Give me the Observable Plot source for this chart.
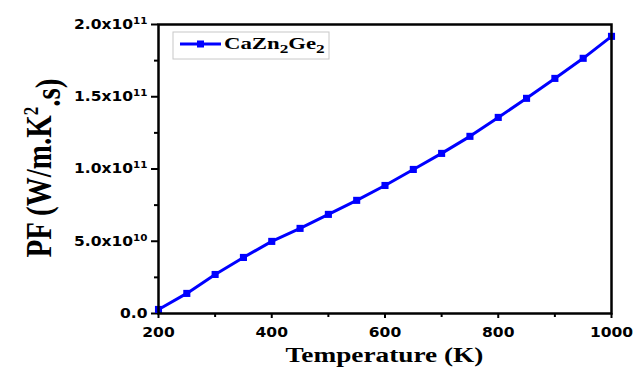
<!DOCTYPE html>
<html><head><meta charset="utf-8">
<script src="https://cdn.jsdelivr.net/npm/d3@7"></script>
<script src="https://cdn.jsdelivr.net/npm/@observablehq/plot@0.6"></script>
<style>body{margin:0;background:#fff} #chart{width:635px;height:367px}</style>
</head><body><div id="chart"></div>
<script>
// ---- data ----
const temperature = [200,250,300,350,400,450,500,550,600,650,700,750,800,850,900,950,1000];
const pf = [2.8e9,1.39e10,2.70e10,3.88e10,4.99e10,5.89e10,6.86e10,7.83e10,8.86e10,9.97e10,1.108e11,1.226e11,1.357e11,1.489e11,1.627e11,1.766e11,1.918e11];
const seriesName = ["CaZn","2","Ge","2"];
const yTicks = [0, 5e10, 1e11, 1.5e11, 2e11];
const yTickLabels = ["0.0","5.0x10^10","1.0x10^11","1.5x10^11","2.0x10^11"];
const yMinorTicks = [2.5e10, 7.5e10, 1.25e11, 1.75e11];
const xTicks = [200,400,600,800,1000];
const xTickLabels = ["200","400","600","800","1000"];
const xMinorTicks = [300,500,700,900];
const xLabel = "Temperature (K)";
const yLabel = ["PF (W/m.K","2",".s)"];

const data = temperature.map((t,i)=>({t, pf: pf[i]}));
const BLUE = "#0000ff";
const SANS = "'DejaVu Sans', 'Liberation Sans', Arial, sans-serif";
const SERIF = "'Liberation Serif', 'Times New Roman', serif";

const plot = Plot.plot({
  width:635, height:367,
  marginLeft:158, marginRight:24, marginTop:24, marginBottom:54,
  x:{domain:[200,1000]},
  y:{domain:[0,2e11]},
  style:{fontFamily:SANS, fontSize:"13.5px", fontWeight:"bold", color:"black", background:"white", overflow:"visible"},
  marks:[
    Plot.axisY(yTicks, {tickSize:7, tickPadding:4, strokeWidth:2, tickFormat:d=>yTickLabels[yTicks.indexOf(d)], label:null}),
    Plot.axisY(yMinorTicks, {tickSize:4, strokeWidth:2, tickFormat:()=>"", label:null}),
    Plot.axisX(xTicks, {tickSize:5, tickPadding:9, strokeWidth:2, tickFormat:d=>xTickLabels[xTicks.indexOf(d)], label:null}),
    Plot.axisX(xMinorTicks, {tickSize:4, strokeWidth:2, tickFormat:()=>"", label:null}),
    Plot.line(data, {x:"t", y:"pf", stroke:BLUE, strokeWidth:3}),
    Plot.dot(data, {x:"t", y:"pf", symbol:"square", fill:BLUE, stroke:"none", r:4}),
    Plot.frame({stroke:"black", strokeWidth:2.5})
  ]
});
document.getElementById("chart").appendChild(plot);

// ---- post-processing of text ----
const svg = d3.select(plot);
const SX = 1.15;
function stretch(sel, anchor) {
  sel.each(function(){
    const t = d3.select(this);
    t.attr("font-size", 13.5).attr("font-weight", "bold").attr("font-family", SANS);
    const s = t.text();
    if (s.includes("^")) {
      const [base, exp] = s.split("^");
      t.text(null);
      t.append("tspan").text(base);
      t.append("tspan").attr("dy","-0.55em").attr("font-size","9px").text(exp);
    }
    const b = this.getBBox();
    const ax = anchor === "end" ? b.x + b.width : b.x + b.width / 2;
    const tr = t.attr("transform") || "";
    t.attr("transform", `${tr} translate(${ax},0) scale(${SX},1) translate(${-ax},0)`);
  });
}
stretch(svg.selectAll('g[aria-label="y-axis tick label"] text'), "end");
stretch(svg.selectAll('g[aria-label="x-axis tick label"] text'), "middle");

// axis titles
svg.append("text")
  .attr("transform", `translate(${(158+611)/2},362) scale(1.3,1)`)
  .attr("text-anchor","middle")
  .attr("font-family", SERIF).attr("font-size", 21).attr("font-weight","bold").attr("fill","black")
  .text(xLabel);

const yl = svg.append("text")
  .attr("transform", `translate(38,168) rotate(-90) scale(1,1.25)`)
  .attr("text-anchor","middle").attr("dy","0.35em")
  .attr("font-family", SERIF).attr("font-size", 29).attr("font-weight","bold").attr("fill","black");
yl.append("tspan").text(yLabel[0]);
yl.append("tspan").attr("dy","-0.6em").attr("font-size",17).text(yLabel[1]);
yl.append("tspan").attr("dy","0.6em").text(yLabel[2]);

// legend
const lg = svg.append("g");
lg.append("rect").attr("x",173).attr("y",32).attr("width",156).attr("height",27)
  .attr("fill","white").attr("stroke","#c8c8c8").attr("stroke-width",1);
lg.append("line").attr("x1",180).attr("x2",221).attr("y1",44).attr("y2",44)
  .attr("stroke",BLUE).attr("stroke-width",3);
lg.append("rect").attr("x",197).attr("y",40.5).attr("width",7).attr("height",7).attr("fill",BLUE);
const lt = lg.append("text").attr("transform","translate(224,49) scale(1.38,1)")
  .attr("text-anchor","start")
  .attr("font-family", SERIF).attr("font-size",16.5).attr("font-weight","bold").attr("fill","black");
lt.append("tspan").text(seriesName[0]);
lt.append("tspan").attr("dy",4).attr("font-size",12.5).text(seriesName[1]);
lt.append("tspan").attr("dy",-4).text(seriesName[2]);
lt.append("tspan").attr("dy",4).attr("font-size",12.5).text(seriesName[3]);
</script>
</body></html>
